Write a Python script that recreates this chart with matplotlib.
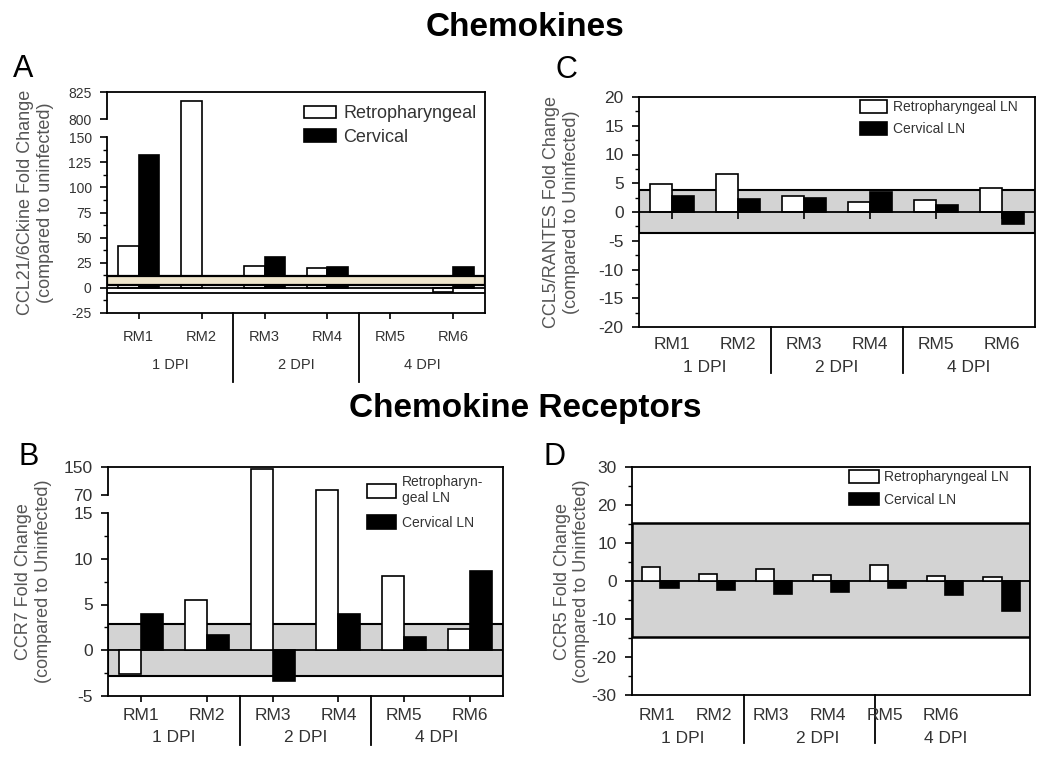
import numpy as np
import matplotlib.pyplot as plt
from matplotlib.transforms import blended_transform_factory

plt.rcParams['font.family'] = ['Liberation Sans', 'DejaVu Sans']
plt.rcParams['axes.unicode_minus'] = False

monkeys = ['RM1', 'RM2', 'RM3', 'RM4', 'RM5', 'RM6']
dpi_groups = ['1 DPI', '2 DPI', '4 DPI']

# A: CCL21/6Ckine
ccl21_retro = [42, 817, 22, 19.5, np.nan, -3.7]
ccl21_cerv = [132, np.nan, 30.5, 20.5, np.nan, 20.5]
ccl21_band = (3, 12)
ccl21_lines = [0, -4.7]

# C: CCL5/RANTES
ccl5_retro = [4.8, 6.6, 2.7, 1.7, 2.1, 4.2]
ccl5_cerv = [2.8, 2.2, 2.5, 3.4, 1.3, -2.1]
ccl5_band = (-3.6, 3.9)

# B: CCR7
ccr7_retro = [-2.6, 5.5, 143, 84, 8.1, 2.3]
ccr7_cerv = [4.0, 1.7, -3.4, 4.0, 1.4, 8.7]
ccr7_band = (-2.8, 2.9)

# D: CCR5 (seven bar pairs, six labels)
ccr5_retro = [3.7, 1.8, 3.1, 1.5, 4.2, 1.4, 1.0]
ccr5_cerv = [-1.8, -2.4, -3.3, -2.9, -1.8, -3.7, -7.9]
ccr5_band = (-14.8, 15.3)

TXT = '#333333'
LAB = '#555555'

fig = plt.figure(figsize=(10.5, 7.59), dpi=100)
W, H = 1050, 759


def add_axes(l, t, r, b):
    return fig.add_axes([l / W, 1 - b / H, (r - l) / W, (b - t) / H])


def broken_scale(lo_top, gap_top, k_gap, k_top):
    u_gap = lo_top + (gap_top - lo_top) * k_gap

    def fwd(v):
        v = np.asarray(v, float)
        return np.where(v <= lo_top, v,
                        np.where(v <= gap_top, lo_top + (v - lo_top) * k_gap,
                                 u_gap + (v - gap_top) * k_top))

    def inv(u):
        u = np.asarray(u, float)
        return np.where(u <= lo_top, u,
                        np.where(u <= u_gap, lo_top + (u - lo_top) / k_gap,
                                 gap_top + (u - u_gap) / k_top))
    return fwd, inv


def style(ax, fs):
    for s in ax.spines.values():
        s.set_linewidth(1.3)
    ax.tick_params(axis='y', which='major', direction='out', length=5, width=1.2,
                   pad=6, labelsize=fs, labelcolor=TXT)
    ax.tick_params(axis='y', which='minor', direction='out', length=3, width=1.0)
    ax.tick_params(axis='x', direction='out', length=4.5, width=1.2, labelbottom=False)


def bars(ax, retro, cerv, width, z):
    x = np.arange(len(retro))
    b1 = ax.bar(x - width / 2, retro, width, color='white', edgecolor='black',
                linewidth=1.2, zorder=z)
    b2 = ax.bar(x + width / 2, cerv, width, color='black', edgecolor='black',
                linewidth=1.2, zorder=z)
    return b1, b2


def groups(ax, rm_x, y_rm, dpi_x, y_dpi, seps, y_sep, fs):
    tr = blended_transform_factory(ax.transData, ax.transAxes)
    for xi, lab in zip(rm_x, monkeys):
        ax.text(xi, y_rm, lab, transform=tr, ha='center', va='center',
                fontsize=fs, color=TXT)
    for xi, lab in zip(dpi_x, dpi_groups):
        ax.text(xi, y_dpi, lab, transform=tr, ha='center', va='center',
                fontsize=fs, color=TXT)
    for xs in seps:
        ax.plot([xs, xs], [0, y_sep], transform=tr, color='black', lw=1.3,
                clip_on=False)


def legend(ax, labels, fx, fy, fs, hl, hh, ls):
    handles = [plt.Rectangle((0, 0), 1, 1, facecolor='white', edgecolor='black', lw=1.2),
               plt.Rectangle((0, 0), 1, 1, facecolor='black', edgecolor='black', lw=1.2)]
    leg = ax.legend(handles, labels, loc='upper left', bbox_to_anchor=(fx, fy),
                    frameon=False, borderpad=0, borderaxespad=0, fontsize=fs,
                    handlelength=hl, handleheight=hh, handletextpad=0.4,
                    labelspacing=ls)
    for t in leg.get_texts():
        t.set_color(TXT)


# ---------------- Panel A ----------------
axA = add_axes(107, 92, 485, 313)
fA, iA = broken_scale(150, 800, 18 / 650, 27 / 25)
axA.set_yscale('function', functions=(fA, iA))
axA.set_xlim(-0.5, 5.5)
axA.set_ylim(-25, 825)
bars(axA, ccl21_retro, ccl21_cerv, 0.33, 2)
axA.axhspan(*ccl21_band, facecolor='#efe5cc', edgecolor='black', lw=1.6, zorder=3)
for yl in ccl21_lines:
    axA.axhline(yl, color='black', lw=1.3, zorder=3)
style(axA, 10)
yt = [-25, 0, 25, 50, 75, 100, 125, 150, 800, 825]
axA.set_yticks(yt)
axA.set_yticklabels([str(t) for t in yt])
axA.set_yticks([-12.5, 12.5, 37.5, 62.5, 87.5, 112.5, 137.5], minor=True)
axA.set_xticks(np.arange(6))
axA.spines['left'].set_visible(False)
for lo, hi in [(-25, 150), (800, 825)]:
    axA.plot([0, 0], [lo, hi], transform=axA.get_yaxis_transform(), color='black',
             lw=1.3, clip_on=False)
axA.set_ylabel('CCL21/6Ckine Fold Change\n(compared to uninfected)', fontsize=13,
               color=LAB)
axA.yaxis.set_label_coords(-0.14, 0.5)
groups(axA, np.arange(6), -0.109, [0.5, 2.5, 4.5], -0.235, [1.5, 3.5], -0.312, 10.5)
legend(axA, ['Retropharyngeal', 'Cervical'], 0.52, 0.94, 13, 1.8, 0.7, 0.35)

# ---------------- Panel C ----------------
axC = add_axes(639, 97, 1035, 327)
axC.set_xlim(-0.5, 5.5)
axC.set_ylim(-20, 20)
axC.axhspan(*ccl5_band, facecolor='#d3d3d3', edgecolor='black', lw=1.5, zorder=1)
bars(axC, ccl5_retro, ccl5_cerv, 0.34, 2)
axC.axhline(0, color='black', lw=1.3, zorder=3)
axC.vlines(np.arange(6), -1.2, 0, color='black', lw=1.2, zorder=3)
style(axC, 12.5)
axC.set_yticks(np.arange(-20, 21, 5))
axC.set_yticks(np.arange(-17.5, 20, 5), minor=True)
axC.set_xticks([])
axC.set_ylabel('CCL5/RANTES Fold Change\n(compared to Uninfected)', fontsize=13,
               color=LAB)
axC.yaxis.set_label_coords(-0.15, 0.5)
groups(axC, np.arange(6), -0.078, [0.5, 2.5, 4.5], -0.174, [1.5, 3.5], -0.2, 12.5)
legend(axC, ['Retropharyngeal LN', 'Cervical LN'], 0.557, 0.985, 10, 2.0, 1.0, 0.55)

# ---------------- Panel B ----------------
axB = add_axes(108, 467, 503, 696)
fB, iB = broken_scale(15, 70, (18 / 9.15) / 55, (28 / 9.15) / 80)
axB.set_yscale('function', functions=(fB, iB))
axB.set_xlim(-0.5, 5.5)
axB.set_ylim(-5, 150)
axB.axhspan(*ccr7_band, facecolor='#d3d3d3', edgecolor='black', lw=1.5, zorder=1)
bars(axB, ccr7_retro, ccr7_cerv, 0.335, 2)
axB.axhline(0, color='black', lw=1.3, zorder=1.5)
style(axB, 12.5)
yt = [-5, 0, 5, 10, 15, 70, 150]
axB.set_yticks(yt)
axB.set_yticklabels([str(t) for t in yt])
axB.set_yticks([-2.5, 2.5, 7.5, 12.5], minor=True)
axB.set_xticks(np.arange(6))
axB.spines['left'].set_visible(False)
for lo, hi in [(-5, 15), (70, 150)]:
    axB.plot([0, 0], [lo, hi], transform=axB.get_yaxis_transform(), color='black',
             lw=1.3, clip_on=False)
axB.set_ylabel('CCR7 Fold Change\n(compared to Uninfected)', fontsize=13, color=LAB)
axB.yaxis.set_label_coords(-0.142, 0.5)
groups(axB, np.arange(6), -0.083, [0.5, 2.5, 4.5], -0.183, [1.5, 3.5], -0.214, 12.5)
legend(axB, ['Retropharyn-\ngeal LN', 'Cervical LN'], 0.656, 0.965, 10, 2.1, 1.15, 0.7)

# ---------------- Panel D ----------------
axD = add_axes(632, 467, 1030, 695)
axD.set_xlim(-0.5, 6.5)
axD.set_ylim(-30, 30)
axD.axhspan(*ccr5_band, facecolor='#d3d3d3', edgecolor='black', lw=1.8, zorder=1)
bars(axD, ccr5_retro, ccr5_cerv, 0.32, 2)
axD.axhline(0, color='black', lw=1.3, zorder=1.5)
style(axD, 12.5)
axD.set_yticks(np.arange(-30, 31, 10))
axD.set_yticks(np.arange(-25, 30, 10), minor=True)
axD.set_xticks([])
axD.set_ylabel('CCR5 Fold Change\n(compared to Uninfected)', fontsize=13, color=LAB)
axD.yaxis.set_label_coords(-0.105, 0.5)
groups(axD, np.arange(6) - 0.06, -0.088, [0.4, 2.76, 5.02], -0.189, [1.47, 3.77],
       -0.21, 12.5)
legend(axD, ['Retropharyngeal LN', 'Cervical LN'], 0.545, 0.985, 10, 2.15, 1.0, 0.6)

# ---------------- titles & letters ----------------
fig.text(0.5, 1 - 28 / H, 'Chemokines', ha='center', va='center', fontsize=24,
         fontweight='bold')
fig.text(0.5, 1 - 408 / H, 'Chemokine Receptors', ha='center', va='center',
         fontsize=24, fontweight='bold')
for lab, px, py in [('A', 23, 69), ('C', 566, 70), ('B', 29, 457), ('D', 555, 457)]:
    fig.text(px / W, 1 - py / H, lab, ha='center', va='center', fontsize=22)

fig.savefig('out.png', dpi=100)
